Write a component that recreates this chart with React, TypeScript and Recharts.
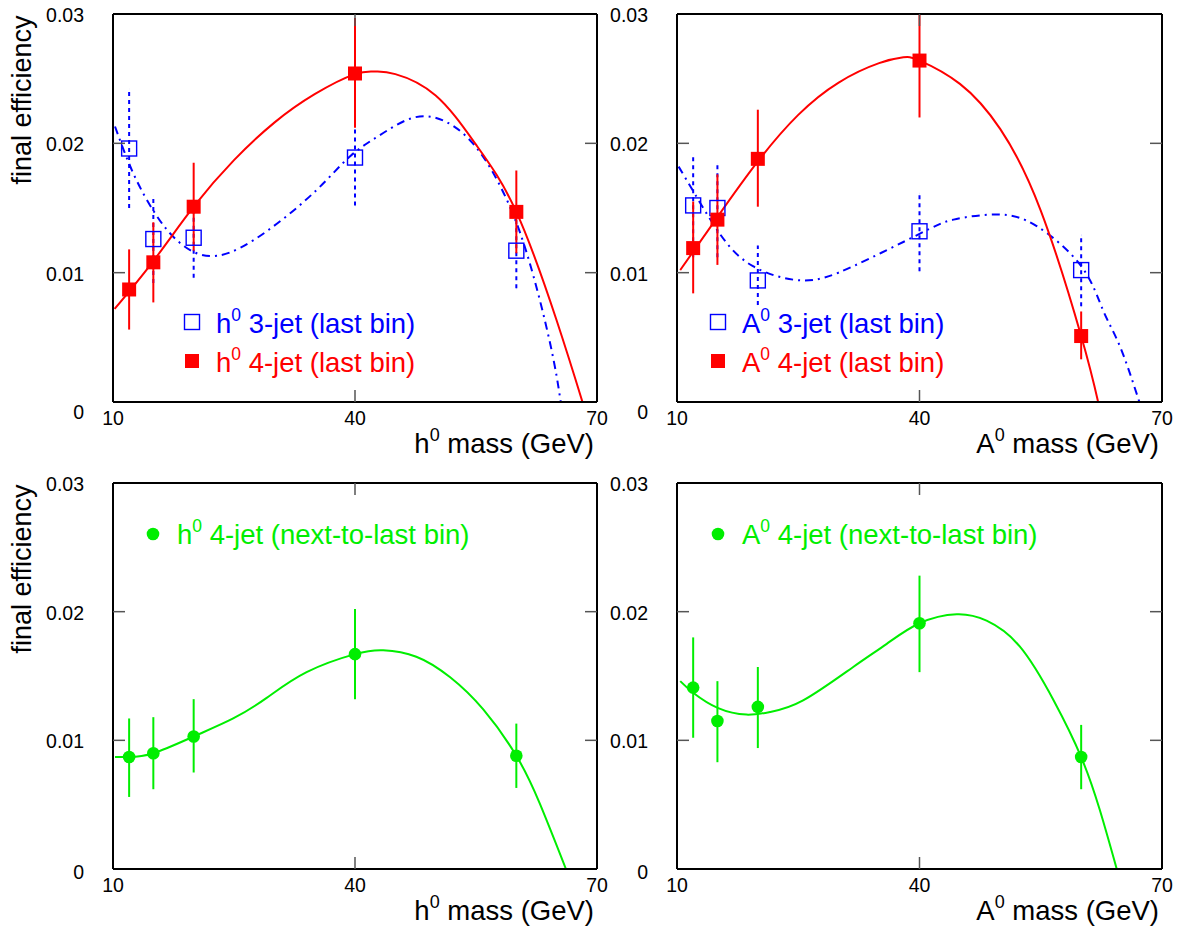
import React from 'react';
import { ComposedChart, Line, Scatter, ErrorBar, XAxis, YAxis } from 'recharts';

const FONT = '"Liberation Sans", Arial, Helvetica, sans-serif';
const RED = '#ff0000';
const BLUE = '#0000ff';
const GREEN = '#00ee00';

const X_TICKS = [10, 40, 70];
const Y_TICKS = [0, 0.01, 0.02, 0.03];

// mass points (GeV)
const MASS = [12, 15, 20, 40, 60];

// h0, last bin
const H4_EFF = [0.0087, 0.0108, 0.0151, 0.0254, 0.0147];
const H4_LO = [0.0056, 0.0077, 0.0117, 0.0212, 0.0115];
const H4_HI = [0.0118, 0.0139, 0.0185, 0.0297, 0.0179];
const H3_EFF = [0.0196, 0.0126, 0.0127, 0.0189, 0.0117];
const H3_LO = [0.0150, 0.0092, 0.0096, 0.0152, 0.0088];
const H3_HI = [0.0242, 0.0159, 0.0158, 0.0223, 0.0146];

const H4_FIT_M = [10.2, 15, 20, 25, 30, 35, 40, 42.5, 45, 50, 55, 60, 65, 68.2];
const H4_FIT = [0.0072, 0.0109, 0.0151, 0.0187, 0.0216, 0.0238, 0.02535, 0.02555, 0.02535, 0.0237, 0.0199, 0.0147, 0.0063, 0];
const H3_FIT_M = [10.25, 12.5, 15.2, 18.3, 22.85, 29.05, 35.25, 39.4, 43.5, 48.5, 53.85, 58, 61.3, 64.2, 65.5];
const H3_FIT = [0.0213, 0.0177, 0.0146, 0.0123, 0.0113, 0.0132, 0.0164, 0.0190, 0.0208, 0.0221, 0.0205, 0.0167, 0.0115, 0.0045, 0];

// A0, last bin
const A4_EFF = [0.0119, 0.0141, 0.0188, 0.0264, 0.0051];
const A4_LO = [0.0084, 0.0106, 0.0151, 0.0220, 0.0033];
const A4_HI = [0.0155, 0.0176, 0.0226, 0.0300, 0.0070];
const A3_EFF = [0.0152, 0.0150, 0.0094, 0.0132, 0.0102];
const A3_LO = [0.0112, 0.0112, 0.0075, 0.0101, 0.0074];
const A3_HI = [0.0192, 0.0184, 0.0121, 0.0161, 0.0129];

const A4_FIT_M = [10.4, 15, 20, 25, 30, 35, 38, 40, 45, 50, 55, 60, 62.1];
const A4_FIT = [0.0102, 0.0143, 0.0186, 0.0222, 0.0247, 0.0262, 0.02665, 0.0264, 0.0246, 0.0211, 0.0148, 0.0051, 0];
const A3_FIT_M = [10.2, 12.2, 15.3, 19.4, 25.6, 31.8, 40, 44.2, 49.6, 54.5, 60, 62.7, 64.8, 67.2];
const A3_FIT = [0.0182, 0.0161, 0.0130, 0.0105, 0.0094, 0.0105, 0.0130, 0.0141, 0.0145, 0.0136, 0.0105, 0.0071, 0.0043, 0];

// next-to-last bin, 4-jet
const HN_EFF = [0.0087, 0.0090, 0.0103, 0.0167, 0.0088];
const HN_LO = [0.0056, 0.0062, 0.0075, 0.0132, 0.0063];
const HN_HI = [0.0117, 0.0118, 0.0132, 0.0202, 0.0113];
const HN_FIT_M = [10.25, 12, 15, 20, 24.9, 29.05, 34, 40, 43.5, 47.6, 51.8, 55.9, 60, 62.9, 66.15];
const HN_FIT = [0.0087, 0.0087, 0.0090, 0.0103, 0.0117, 0.0133, 0.0153, 0.0167, 0.0170, 0.0165, 0.0149, 0.0124, 0.0088, 0.0051, 0];

const AN_EFF = [0.0141, 0.0115, 0.0126, 0.0191, 0.0087];
const AN_LO = [0.0102, 0.0083, 0.0094, 0.0153, 0.0062];
const AN_HI = [0.0180, 0.0146, 0.0157, 0.0228, 0.0112];
const AN_FIT_M = [10.4, 12, 15.1, 18.6, 21.5, 25.6, 31.8, 35.95, 40, 44.6, 48.3, 52.4, 56.6, 60, 62.3, 64.4];
const AN_FIT = [0.0146, 0.0137, 0.0125, 0.0120, 0.0122, 0.0131, 0.0157, 0.0175, 0.0191, 0.0198, 0.0193, 0.0173, 0.0131, 0.0087, 0.0046, 0];

type Pt = { m: number; v: number; lo: number; hi: number };
type Kind = 'open' | 'filled' | 'circle';
interface Series {
  name: string;
  pts: Pt[];
  fit: { m: number; v: number }[];
  color: string;
  kind: Kind;
  dashed?: boolean;
}

const points = (v: number[], lo: number[], hi: number[]): Pt[] =>
  MASS.map((m, i) => ({ m, v: v[i], lo: lo[i], hi: hi[i] }));
const curve = (m: number[], v: number[]) => m.map((x, i) => ({ m: x, v: v[i] }));

const TICK = 12;
const TICK_COLOR = '#555';
const TICK_FONT = 19.5;

const Marker = ({ kind, color, cx, cy }: { kind: Kind; color: string; cx: number; cy: number }) => {
  if (kind === 'circle') return <circle cx={cx} cy={cy} r={6.3} fill={color} />;
  if (kind === 'filled') return <rect x={cx - 7} y={cy - 7} width={14} height={14} fill={color} />;
  return <rect x={cx - 7.5} y={cy - 7.5} width={15} height={15} fill="none" stroke={color} strokeWidth={1.4} />;
};

function Panel(props: {
  left: number; top: number; width: number; height: number;
  x1: number; x2: number; y1: number; y2: number;
  series: Series[]; particle: string; yTitle: boolean; zeroShift: number;
  legendX: number; legendY: number;
}) {
  const { left, top, width, height, x1, x2, y1, y2, series, particle, yTitle, zeroShift } = props;
  // axes are 1px thick boxes so that recharts draws them
  const margin = { left: x1 - left - 1, right: left + width - x2 - 1, top: y1 - top - 1, bottom: top + height - y2 - 1 };
  const frame = { stroke: '#000', strokeWidth: 2 };

  const BottomTick = (p: any) => {
    const v = p.payload.value;
    return (
      <g>
        {v > 10 && v < 70 && <line x1={p.x} x2={p.x} y1={p.y} y2={p.y - TICK} stroke={TICK_COLOR} strokeWidth={1.5} />}
        <text x={p.x} y={p.y + 23} textAnchor="middle" fontSize={TICK_FONT} fontFamily={FONT} fill="#000">{v}</text>
      </g>
    );
  };
  const TopTick = (p: any) => {
    const v = p.payload.value;
    return v > 10 && v < 70 ? <line x1={p.x} x2={p.x} y1={p.y} y2={p.y + TICK} stroke={TICK_COLOR} strokeWidth={1.5} /> : <g />;
  };
  const LeftTick = (p: any) => {
    const v = p.payload.value;
    return (
      <g>
        {v > 0 && v < 0.03 && <line x1={p.x} x2={p.x + TICK} y1={p.y} y2={p.y} stroke={TICK_COLOR} strokeWidth={1.5} />}
        <text x={p.x - 29} y={p.y + 7 + (v === 0 ? zeroShift : 1)} textAnchor="end" fontSize={TICK_FONT} fontFamily={FONT} fill="#000">
          {v === 0 ? '0' : v.toFixed(2)}
        </text>
      </g>
    );
  };
  const RightTick = (p: any) => {
    const v = p.payload.value;
    return v > 0 && v < 0.03 ? <line x1={p.x} x2={p.x - TICK} y1={p.y} y2={p.y} stroke={TICK_COLOR} strokeWidth={1.5} /> : <g />;
  };

  const xTitle = () => (
    <text x={x2 - left - 3} y={y2 - top + 51} textAnchor="end" fontSize={27.5} fontFamily={FONT} fill="#000">
      {particle}
      <tspan dy={-12} fontSize={18}>0</tspan>
      <tspan dy={12}>{'\u00a0mass (GeV)'}</tspan>
    </text>
  );
  const yTitleEl = () =>
    yTitle ? (
      <text
        x={31 - left}
        y={y1 - top + 86}
        transform={`rotate(-90, ${31 - left}, ${y1 - top + 86})`}
        textAnchor="middle"
        fontSize={27}
        fontFamily={FONT}
        fill="#000"
      >
        final efficiency
      </text>
    ) : <g />;

  return (
    <div style={{ position: 'absolute', left, top, width, height }}>
      <ComposedChart width={width} height={height} margin={margin}>
        <XAxis
          xAxisId={0} type="number" dataKey="m" domain={[10, 70]} ticks={X_TICKS} interval={0}
          allowDataOverflow height={1} tickSize={0} tickMargin={0} tickLine={false}
          axisLine={frame} tick={BottomTick} label={xTitle}
        />
        <XAxis
          xAxisId="top" orientation="top" type="number" dataKey="m" domain={[10, 70]} ticks={X_TICKS} interval={0}
          allowDataOverflow height={1} tickSize={0} tickMargin={0} tickLine={false} axisLine={frame} tick={TopTick}
        />
        <YAxis
          yAxisId={0} type="number" dataKey="v" domain={[0, 0.03]} ticks={Y_TICKS} interval={0}
          allowDataOverflow width={1} tickSize={0} tickMargin={0} tickLine={false}
          axisLine={frame} tick={LeftTick} label={yTitleEl}
        />
        <YAxis
          yAxisId="right" orientation="right" type="number" dataKey="v" domain={[0, 0.03]} ticks={Y_TICKS} interval={0}
          allowDataOverflow width={1} tickSize={0} tickMargin={0} tickLine={false} axisLine={frame} tick={RightTick}
        />
        {series.map((s) => (
          <Line
            key={`fit-${s.name}`}
            data={s.fit}
            dataKey="v"
            type="natural"
            stroke={s.color}
            strokeWidth={2}
            strokeDasharray={s.dashed ? '8 5 2 5' : undefined}
            dot={false}
            activeDot={false}
            isAnimationActive={false}
          />
        ))}
        {series.map((s) => (
          <Scatter
            key={`pts-${s.name}`}
            data={s.pts}
            dataKey="v"
            isAnimationActive={false}
            shape={(p: any) => <Marker kind={s.kind} color={s.color} cx={p.cx} cy={p.cy} />}
          >
            <ErrorBar
              dataKey={(d: Pt) => [d.v - d.lo, d.hi - d.v]}
              direction="y"
              width={0}
              stroke={s.color}
              strokeWidth={2}
              strokeDasharray={s.dashed ? '4 4' : undefined}
              isAnimationActive={false}
            />
          </Scatter>
        ))}
      </ComposedChart>
      <svg
        width={width}
        height={height}
        style={{ position: 'absolute', left: 0, top: 0, pointerEvents: 'none' }}
      >
        {series.map((s, i) => {
          const cy = props.legendY - top + i * 39;
          const mx = props.legendX - left;
          return (
            <g key={`leg-${s.name}`}>
              <Marker kind={s.kind} color={s.color} cx={mx} cy={cy - (s.kind === 'circle' ? 0 : 1)} />
              <text x={mx + 24} y={cy + 10} fontSize={27.5} fontFamily={FONT} fill={s.color}>
                {particle}
                <tspan dy={-12} fontSize={17.5}>0</tspan>
                <tspan dy={12}>{'\u00a0' + s.name}</tspan>
              </text>
            </g>
          );
        })}
      </svg>
    </div>
  );
}

const H_LAST: Series[] = [
  { name: '3-jet (last bin)', pts: points(H3_EFF, H3_LO, H3_HI), fit: curve(H3_FIT_M, H3_FIT), color: BLUE, kind: 'open', dashed: true },
  { name: '4-jet (last bin)', pts: points(H4_EFF, H4_LO, H4_HI), fit: curve(H4_FIT_M, H4_FIT), color: RED, kind: 'filled' },
];
const A_LAST: Series[] = [
  { name: '3-jet (last bin)', pts: points(A3_EFF, A3_LO, A3_HI), fit: curve(A3_FIT_M, A3_FIT), color: BLUE, kind: 'open', dashed: true },
  { name: '4-jet (last bin)', pts: points(A4_EFF, A4_LO, A4_HI), fit: curve(A4_FIT_M, A4_FIT), color: RED, kind: 'filled' },
];
const H_NEXT: Series[] = [
  { name: '4-jet (next-to-last bin)', pts: points(HN_EFF, HN_LO, HN_HI), fit: curve(HN_FIT_M, HN_FIT), color: GREEN, kind: 'circle' },
];
const A_NEXT: Series[] = [
  { name: '4-jet (next-to-last bin)', pts: points(AN_EFF, AN_LO, AN_HI), fit: curve(AN_FIT_M, AN_FIT), color: GREEN, kind: 'circle' },
];

export default function App() {
  return (
    <div style={{ position: 'absolute', left: 0, top: 0, width: 1181, height: 934, background: '#fff', fontFamily: FONT }}>
      <Panel left={0} top={0} width={622} height={467} x1={113} x2={597} y1={14} y2={402}
        series={H_LAST} particle="h" yTitle zeroShift={10} legendX={192} legendY={323} />
      <Panel left={600} top={0} width={581} height={467} x1={677} x2={1162} y1={14} y2={402}
        series={A_LAST} particle="A" yTitle={false} zeroShift={10} legendX={718} legendY={323} />
      <Panel left={0} top={467} width={622} height={467} x1={113} x2={597} y1={483} y2={869}
        series={H_NEXT} particle="h" yTitle zeroShift={3} legendX={153} legendY={534} />
      <Panel left={600} top={467} width={581} height={467} x1={677} x2={1162} y1={483} y2={869}
        series={A_NEXT} particle="A" yTitle={false} zeroShift={3} legendX={718} legendY={534} />
    </div>
  );
}
